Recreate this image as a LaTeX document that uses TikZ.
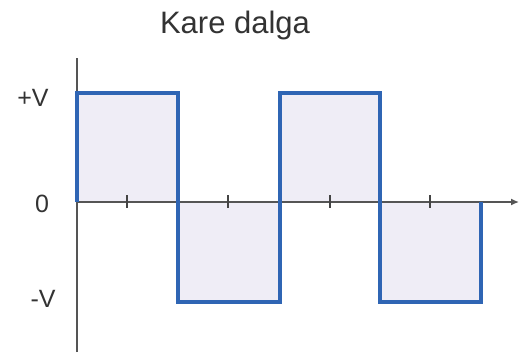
\documentclass[tikz,border=0pt]{standalone}
\usepackage{fontspec}
\setmainfont{Liberation Sans}
\usetikzlibrary{positioning,arrows.meta}
\definecolor{wavefill}{HTML}{EFEDF6}
\definecolor{waveblue}{HTML}{2F65B4}
\definecolor{axisgray}{HTML}{555555}

\begin{document}
\begin{tikzpicture}[
  x=1pt, y=-1pt,
  axis/.style={draw=axisgray, line width=1.4pt},
  tick/.style={draw=axisgray!80!black, line width=1.6pt},
  wave/.style={draw=waveblue, line width=4pt, line join=miter},
  half/.style={fill=wavefill},
  lvl/.style={font=\fontsize{25}{28}\selectfont, text=black!80, inner sep=0pt},
  to/.style={-{Latex[length=8pt, width=7pt]}, axis}]

\useasboundingbox (0,0) rectangle (519,354);

% shaded half periods
\fill[half] (77,93) rectangle (178,202);
\fill[half] (178,202) rectangle (280,302);
\fill[half] (280,93) rectangle (380,202);
\fill[half] (380,202) rectangle (481,302);

% axes
\coordinate (yb) at (77,352);
\coordinate (yt) at (77,58);
\coordinate (xo) at (77,202);
\coordinate (xe) at (519,202);
\draw[axis] (yb) -- (yt);
\draw[to] (xo) -- (xe);
\foreach \tx in {127,228,330,430}
  \draw[tick] (\tx,195) -- (\tx,208);

% square wave
\draw[wave] (77,202) -- (77,93) -- (178,93) -- (178,302) -- (280,302)
  -- (280,93) -- (380,93) -- (380,302) -- (481,302) -- (481,202);

\node[lvl] (pv) at (33,98) {+V};
\node[lvl] (zr) at (42,204) {0};
\node[lvl] (mv) at (43,299) {-V};
\node[font=\fontsize{31}{36}\selectfont, text=black!80] (ttl) at (235,25) {Kare dalga};
\end{tikzpicture}
\end{document}
